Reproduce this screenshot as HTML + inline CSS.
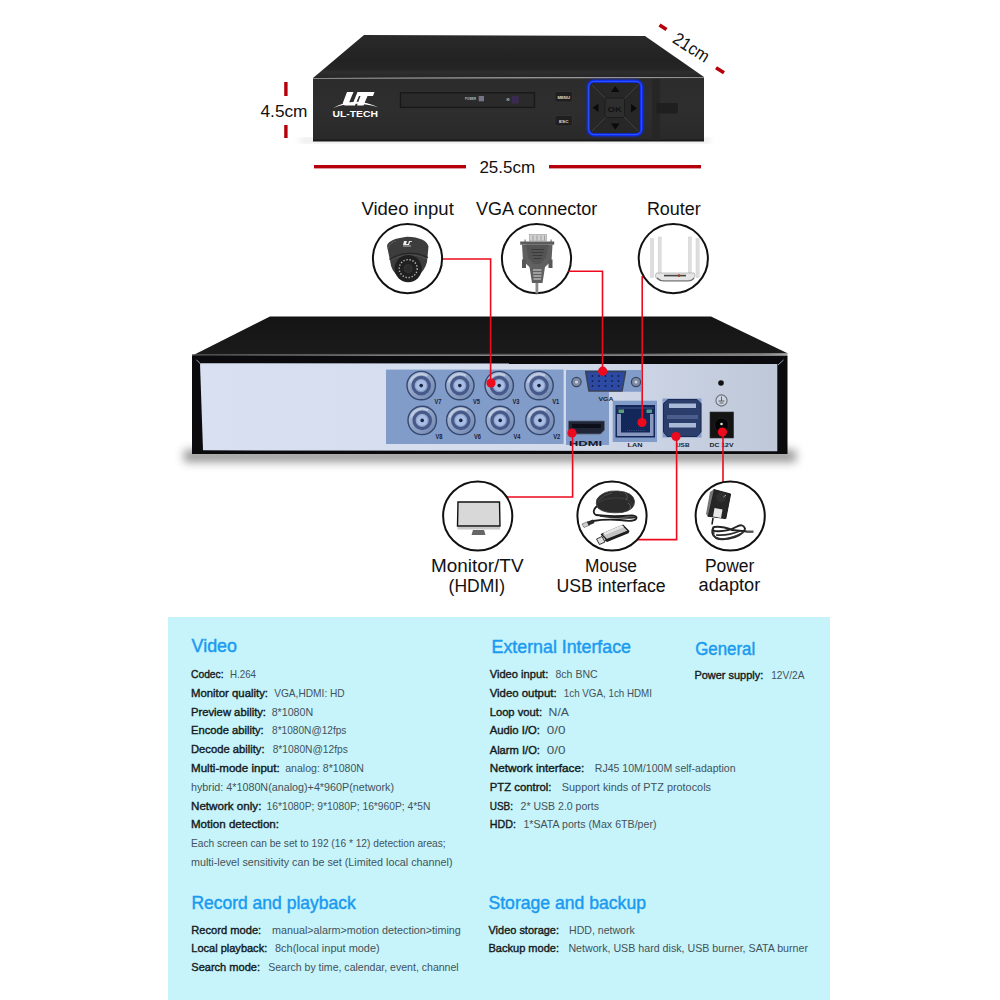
<!DOCTYPE html>
<html><head><meta charset="utf-8"><title>DVR</title>
<style>
html,body{margin:0;padding:0;background:#fff;width:1000px;height:1000px;overflow:hidden}
svg{display:block;font-family:"Liberation Sans",sans-serif}
</style></head><body>
<svg width="1000" height="1000" viewBox="0 0 1000 1000">
<rect x="0" y="0" width="1000" height="1000" fill="#fff"/>
<rect x="168" y="617" width="662" height="383" fill="#c6f4fa"/>
<defs>
<linearGradient id="topg" x1="0" y1="0" x2="0" y2="1">
 <stop offset="0" stop-color="#2a2a2a"/><stop offset="0.6" stop-color="#222"/><stop offset="0.8" stop-color="#262626"/><stop offset="0.86" stop-color="#2e2e2e"/><stop offset="1" stop-color="#252525"/></linearGradient>
<linearGradient id="frontg" x1="0" y1="0" x2="0" y2="1">
 <stop offset="0" stop-color="#2c2c2c"/><stop offset="0.5" stop-color="#2e2e2e"/><stop offset="1" stop-color="#292929"/></linearGradient>
<linearGradient id="rtop" x1="0" y1="0" x2="0" y2="1">
 <stop offset="0" stop-color="#141414"/><stop offset="1" stop-color="#1b1b1b"/></linearGradient>
<linearGradient id="panelg" x1="0" y1="0" x2="1" y2="0">
 <stop offset="0" stop-color="#d8e0f1"/><stop offset="0.6" stop-color="#d4dcec"/><stop offset="1" stop-color="#bfc8d9"/></linearGradient>
<linearGradient id="shadg" x1="0" y1="0" x2="0" y2="1">
 <stop offset="0" stop-color="#9a9a9a"/><stop offset="1" stop-color="#ffffff" stop-opacity="0"/></linearGradient>
<radialGradient id="bncg" cx="0.5" cy="0.5" r="0.5">
 <stop offset="0" stop-color="#c9d3e4"/><stop offset="0.35" stop-color="#9fb0cc"/><stop offset="0.6" stop-color="#b8c4d8"/><stop offset="0.85" stop-color="#8ea2c2"/><stop offset="1" stop-color="#4f6690"/></radialGradient>
<linearGradient id="bncm" x1="0" y1="0" x2="1" y2="1">
 <stop offset="0" stop-color="#b4c2dc"/><stop offset="0.5" stop-color="#8ea2c6"/><stop offset="1" stop-color="#6e84ac"/></linearGradient>
<filter id="blur1" x="-20%" y="-20%" width="140%" height="140%"><feGaussianBlur stdDeviation="1"/></filter><filter id="blur2"><feGaussianBlur stdDeviation="3"/></filter><filter id="blur5" x="-10%" y="-200%" width="120%" height="500%"><feGaussianBlur stdDeviation="5"/></filter>
</defs>
<rect x="300" y="138" width="410" height="5" fill="#ccc" filter="url(#blur2)" opacity="0.5"/>
<polygon points="364,35 645,36 704,77 313,78" fill="url(#topg)"/>
<rect x="313" y="78" width="391" height="63" fill="url(#frontg)"/>
<line x1="313" y1="78.5" x2="704" y2="77.5" stroke="#8a8a8a" stroke-width="1"/>
<rect x="313" y="139.5" width="391" height="2" fill="#1a1a1a"/>
<rect x="652" y="79" width="8" height="61" fill="#262626"/>
<rect x="656.5" y="103" width="21.5" height="10.5" rx="1.5" fill="#1f1f1f"/>
<rect x="400.5" y="92.8" width="134" height="14.6" fill="#2a2a2a" stroke="#181818" stroke-width="1.3"/>
<rect x="478.7" y="96" width="5.3" height="5.3" fill="#75758a"/>
<rect x="511.7" y="96" width="7" height="7.5" fill="#3a2a52"/>
<text x="465.0" y="99.8" font-size="2.8" font-weight="bold" fill="#bbb" textLength="11.0" lengthAdjust="spacingAndGlyphs" >POWER</text>
<text x="506.5" y="100.5" font-size="2.8" font-weight="bold" fill="#ccc" textLength="3.0" lengthAdjust="spacingAndGlyphs" >HD</text>
<rect x="555" y="91.5" width="17.5" height="10.5" rx="2" fill="#1f1f1f" stroke="#3a3a3a" stroke-width="0.6"/>
<text x="557.5" y="98.8" font-size="3.6" font-weight="bold" fill="#ddd" textLength="12.5" lengthAdjust="spacingAndGlyphs" >MENU</text>
<rect x="555" y="115.5" width="17.5" height="10.5" rx="2" fill="#1f1f1f" stroke="#3a3a3a" stroke-width="0.6"/>
<text x="559.0" y="122.8" font-size="3.6" font-weight="bold" fill="#ddd" textLength="9.5" lengthAdjust="spacingAndGlyphs" >ESC</text>
<rect x="588.6" y="81.4" width="52.8" height="53.2" rx="5.5" fill="none" stroke="#1030ff" stroke-width="3.6" filter="url(#blur1)" opacity="0.8"/>
<rect x="588.6" y="81.4" width="52.8" height="53.2" rx="5.5" fill="#272727" stroke="#0b2cf5" stroke-width="2.8"/>
<rect x="588.6" y="81.4" width="52.8" height="53.2" rx="5.5" fill="none" stroke="#4a6aff" stroke-width="0.8" opacity="0.8"/>
<line x1="592" y1="85" x2="606" y2="99" stroke="#444" stroke-width="0.8"/><line x1="638" y1="85" x2="624" y2="99" stroke="#444" stroke-width="0.8"/><line x1="592" y1="131" x2="606" y2="117" stroke="#444" stroke-width="0.8"/><line x1="638" y1="131" x2="624" y2="117" stroke="#444" stroke-width="0.8"/>
<rect x="605" y="98" width="19.5" height="19.5" rx="2" fill="#2e2e2e" stroke="#1c1c1c" stroke-width="1"/>
<text x="607.5" y="111.8" font-size="8" font-weight="bold" fill="#111" textLength="14.5" lengthAdjust="spacingAndGlyphs" >OK</text>
<polygon points="615.3,86 619.5,92 611,92" fill="#0a0a0a"/>
<polygon points="615.3,129.5 619.5,123.5 611,123.5" fill="#0a0a0a"/>
<polygon points="592.5,107.8 598.5,103.5 598.5,112" fill="#0a0a0a"/>
<polygon points="637,108.3 631,104 631,112.5" fill="#0a0a0a"/>
<path d="M347,92 L353.5,92 L349.5,101.5 Q349,103 350.5,103 L353,103 L357.5,92 L374.5,92 L373,96 L367.5,96 L363.5,105.5 L357,105.5 L360.5,96 L359,96 L355,105.5 L345.5,105.5 Q342,105.5 343,102.5 Z" fill="#fff"/>
<path d="M333,108 Q355,96 378.5,107.5 Q355,100 333,108 Z" fill="#fff"/>
<text x="332.5" y="117.2" font-size="8.4" font-weight="bold" fill="#fff" textLength="45.5" lengthAdjust="spacingAndGlyphs" >UL-TECH</text>
<rect x="284.2" y="82" width="3.4" height="14" fill="#b5000c"/>
<rect x="284.2" y="125" width="3.4" height="13" fill="#b5000c"/>
<text x="260.5" y="116.8" font-size="17" fill="#111" textLength="47.0" lengthAdjust="spacingAndGlyphs" >4.5cm</text>
<rect x="314" y="165" width="152" height="3.4" fill="#b5000c"/>
<rect x="549" y="165" width="152" height="3.4" fill="#b5000c"/>
<text x="479.4" y="172.6" font-size="16.5" fill="#111" textLength="55.8" lengthAdjust="spacingAndGlyphs" >25.5cm</text>
<line x1="659.5" y1="25" x2="666.5" y2="29.6" stroke="#b5000c" stroke-width="3.6"/>
<line x1="716" y1="67.8" x2="724" y2="72.8" stroke="#b5000c" stroke-width="3.6"/>
<g transform="translate(671.5,41.8) rotate(32.5)">
<text x="0.0" y="0.0" font-size="17.5" fill="#111" textLength="39.5" lengthAdjust="spacingAndGlyphs" >21cm</text>
</g>
<text x="361.4" y="214.6" font-size="18" fill="#111" textLength="92.4" lengthAdjust="spacingAndGlyphs" >Video input</text>
<text x="476.0" y="214.8" font-size="18" fill="#111" textLength="121.3" lengthAdjust="spacingAndGlyphs" >VGA connector</text>
<text x="646.9" y="214.8" font-size="18" fill="#111" textLength="53.9" lengthAdjust="spacingAndGlyphs" >Router</text>
<circle cx="407.5" cy="258.6" r="34.6" fill="#fff" stroke="#111" stroke-width="2"/>
<circle cx="536.5" cy="258.6" r="34.6" fill="#fff" stroke="#111" stroke-width="2"/>
<circle cx="673.3" cy="258.6" r="34.6" fill="#fff" stroke="#111" stroke-width="2"/>
<g>
<path d="M387,246 Q388,239 407,236.8 Q426,237.5 428.5,246.5 L427,262 Q425,270 418,276 L398,276 Q391,270 390.5,263 Z" fill="#3d3d3d"/>
<path d="M388,249 Q390,242 396,241" fill="none" stroke="#5a5a5a" stroke-width="1"/>
<path d="M389.5,259.5 Q408,248 428,257.5" fill="none" stroke="#262626" stroke-width="1.2"/>
<path d="M390,260.5 Q408,250 427,259" fill="none" stroke="#5c5c5c" stroke-width="0.6"/>
<circle cx="408.2" cy="268.6" r="13.6" fill="#202020"/>
<circle cx="408.2" cy="268.6" r="9" fill="none" stroke="#bdbdbd" stroke-width="1.4" stroke-dasharray="1.3 1.8"/>
<circle cx="408.2" cy="268.6" r="4" fill="#2c2c2c" stroke="#3a3a3a" stroke-width="0.8"/>
<path d="M404,241 l3,0 l-1,3 l2,0 l1,-3 l3,0 l-0.5,1 l-1.5,0 l-1,3 l-6,0 z" fill="#eee"/>
<rect x="403" y="245.5" width="8" height="1" fill="#bbb"/>
</g>
<g>
<rect x="529.5" y="234.5" width="17" height="6.5" fill="#d0d0d0" stroke="#9a9a9a" stroke-width="0.6"/>
<path d="M533,235.5 v5 M537,235.5 v5 M541,235.5 v5 M544.5,235.5 v5" stroke="#8a8a8a" stroke-width="0.7"/>
<rect x="524.5" y="239.5" width="1.2" height="3" fill="#777"/><rect x="550.5" y="239.5" width="1.2" height="3" fill="#777"/>
<rect x="520.2" y="241.5" width="34" height="3.2" fill="#5c5c5c"/>
<path d="M522,244.7 L552.5,244.7 L551.5,261 L545,267 L542.5,283 L532,283 L529.5,267 L523,261 Z" fill="#606060"/>
<path d="M526,244.7 L548.5,244.7 L546,258 L540,264 L534,264 L528,258 Z" fill="#545454"/>
<rect x="522" y="259.5" width="4" height="8.5" fill="#575757"/><rect x="548.5" y="259.5" width="4" height="8.5" fill="#575757"/>
<path d="M531,249.5 h13 M531.5,252.5 h12 M532.5,255.5 h10 M533.5,258.5 h8" stroke="#3a3a3a" stroke-width="1.1"/>
<path d="M533,270 h8.5 M533,273 h8.5 M533.3,276 h8 M533.5,279 h7.5" stroke="#dcdcdc" stroke-width="1.2"/>
<rect x="535.5" y="283" width="2.8" height="10.5" fill="#8a8a8a"/>
</g>
<g>
<rect x="650.5" y="238.7" width="3.2" height="39" fill="#dedede" stroke="#cfcfcf" stroke-width="0.5"/>
<rect x="658.2" y="237" width="3" height="37" fill="#dedede" stroke="#cfcfcf" stroke-width="0.5"/>
<rect x="688.3" y="237" width="3" height="37" fill="#dedede" stroke="#cfcfcf" stroke-width="0.5"/>
<rect x="696" y="238.7" width="3.2" height="39" fill="#dedede" stroke="#cfcfcf" stroke-width="0.5"/>
<path d="M656.5,273 L694,273 Q696,275 694,278 Q692,280.5 688,280.5 L662,280.5 Q658,280.5 656,278 Q654.5,275 656.5,273 Z" fill="#e6e6e6" stroke="#9a9a9a" stroke-width="0.6"/>
<path d="M657,278 Q660,281 664,281 L688,281 Q692,281 694,278" fill="none" stroke="#6a6a6a" stroke-width="1.2"/>
<rect x="664" y="274.8" width="22" height="1.6" fill="#444"/>
<circle cx="679" cy="275.6" r="1.3" fill="#a04010"/>
</g>
<rect x="184" y="450" width="612" height="12" fill="#8a8a8a" filter="url(#blur5)" opacity="0.9"/>
<polygon points="270,316.4 711,316.4 787.5,353.3 192,355.7" fill="url(#rtop)"/>
<line x1="192" y1="354.8" x2="787.5" y2="354" stroke="#5a5a5a" stroke-width="1.2"/>
<rect x="192" y="355.5" width="595.5" height="98.5" fill="#0b0b0e"/>
<polygon points="200,363.3 777.3,363.5 777.3,451.3 203,450.3" fill="url(#panelg)"/>
<line x1="196.5" y1="359.8" x2="201" y2="364.5" stroke="#9aa0aa" stroke-width="1"/>
<line x1="783.5" y1="360" x2="778" y2="365" stroke="#9aa6c0" stroke-width="1"/>
<rect x="386" y="369.6" width="177.6" height="74.4" fill="#819cc9"/>
<circle cx="421.2" cy="385.6" r="14.2" fill="url(#bncm)" stroke="#34476f" stroke-width="1.4"/>
<path d="M410.2,382.6 A11.5,11.5 0 0 1 427.2,375.6" fill="none" stroke="#c0cce2" stroke-width="2"/>
<circle cx="421.2" cy="385.6" r="8.2" fill="none" stroke="#46598a" stroke-width="3.2"/>
<circle cx="421.2" cy="385.6" r="5.3" fill="#a7bde6"/>
<circle cx="421.2" cy="385.6" r="1.8" fill="#18223e"/>
<text x="434.4" y="403.8" font-size="6.5" font-weight="bold" fill="#1a2038" textLength="7.0" lengthAdjust="spacingAndGlyphs" >V7</text>
<circle cx="459.8" cy="385.6" r="14.2" fill="url(#bncm)" stroke="#34476f" stroke-width="1.4"/>
<path d="M448.8,382.6 A11.5,11.5 0 0 1 465.8,375.6" fill="none" stroke="#c0cce2" stroke-width="2"/>
<circle cx="459.8" cy="385.6" r="8.2" fill="none" stroke="#46598a" stroke-width="3.2"/>
<circle cx="459.8" cy="385.6" r="5.3" fill="#a7bde6"/>
<circle cx="459.8" cy="385.6" r="1.8" fill="#18223e"/>
<text x="473.0" y="403.8" font-size="6.5" font-weight="bold" fill="#1a2038" textLength="7.0" lengthAdjust="spacingAndGlyphs" >V5</text>
<circle cx="499.2" cy="385.6" r="14.2" fill="url(#bncm)" stroke="#34476f" stroke-width="1.4"/>
<path d="M488.2,382.6 A11.5,11.5 0 0 1 505.2,375.6" fill="none" stroke="#c0cce2" stroke-width="2"/>
<circle cx="499.2" cy="385.6" r="8.2" fill="none" stroke="#46598a" stroke-width="3.2"/>
<circle cx="499.2" cy="385.6" r="5.3" fill="#a7bde6"/>
<circle cx="499.2" cy="385.6" r="1.8" fill="#18223e"/>
<text x="512.4" y="403.8" font-size="6.5" font-weight="bold" fill="#1a2038" textLength="7.0" lengthAdjust="spacingAndGlyphs" >V3</text>
<circle cx="539.0" cy="385.6" r="14.2" fill="url(#bncm)" stroke="#34476f" stroke-width="1.4"/>
<path d="M528.0,382.6 A11.5,11.5 0 0 1 545.0,375.6" fill="none" stroke="#c0cce2" stroke-width="2"/>
<circle cx="539.0" cy="385.6" r="8.2" fill="none" stroke="#46598a" stroke-width="3.2"/>
<circle cx="539.0" cy="385.6" r="5.3" fill="#a7bde6"/>
<circle cx="539.0" cy="385.6" r="1.8" fill="#18223e"/>
<text x="552.2" y="403.8" font-size="6.5" font-weight="bold" fill="#1a2038" textLength="7.0" lengthAdjust="spacingAndGlyphs" >V1</text>
<circle cx="422.2" cy="420.4" r="14.2" fill="url(#bncm)" stroke="#34476f" stroke-width="1.4"/>
<path d="M411.2,417.4 A11.5,11.5 0 0 1 428.2,410.4" fill="none" stroke="#c0cce2" stroke-width="2"/>
<circle cx="422.2" cy="420.4" r="8.2" fill="none" stroke="#46598a" stroke-width="3.2"/>
<circle cx="422.2" cy="420.4" r="5.3" fill="#a7bde6"/>
<circle cx="422.2" cy="420.4" r="1.8" fill="#18223e"/>
<text x="435.4" y="438.6" font-size="6.5" font-weight="bold" fill="#1a2038" textLength="7.0" lengthAdjust="spacingAndGlyphs" >V8</text>
<circle cx="460.8" cy="420.4" r="14.2" fill="url(#bncm)" stroke="#34476f" stroke-width="1.4"/>
<path d="M449.8,417.4 A11.5,11.5 0 0 1 466.8,410.4" fill="none" stroke="#c0cce2" stroke-width="2"/>
<circle cx="460.8" cy="420.4" r="8.2" fill="none" stroke="#46598a" stroke-width="3.2"/>
<circle cx="460.8" cy="420.4" r="5.3" fill="#a7bde6"/>
<circle cx="460.8" cy="420.4" r="1.8" fill="#18223e"/>
<text x="474.0" y="438.6" font-size="6.5" font-weight="bold" fill="#1a2038" textLength="7.0" lengthAdjust="spacingAndGlyphs" >V6</text>
<circle cx="500.2" cy="420.4" r="14.2" fill="url(#bncm)" stroke="#34476f" stroke-width="1.4"/>
<path d="M489.2,417.4 A11.5,11.5 0 0 1 506.2,410.4" fill="none" stroke="#c0cce2" stroke-width="2"/>
<circle cx="500.2" cy="420.4" r="8.2" fill="none" stroke="#46598a" stroke-width="3.2"/>
<circle cx="500.2" cy="420.4" r="5.3" fill="#a7bde6"/>
<circle cx="500.2" cy="420.4" r="1.8" fill="#18223e"/>
<text x="513.4" y="438.6" font-size="6.5" font-weight="bold" fill="#1a2038" textLength="7.0" lengthAdjust="spacingAndGlyphs" >V4</text>
<circle cx="540.0" cy="420.4" r="14.2" fill="url(#bncm)" stroke="#34476f" stroke-width="1.4"/>
<path d="M529.0,417.4 A11.5,11.5 0 0 1 546.0,410.4" fill="none" stroke="#c0cce2" stroke-width="2"/>
<circle cx="540.0" cy="420.4" r="8.2" fill="none" stroke="#46598a" stroke-width="3.2"/>
<circle cx="540.0" cy="420.4" r="5.3" fill="#a7bde6"/>
<circle cx="540.0" cy="420.4" r="1.8" fill="#18223e"/>
<text x="553.2" y="438.6" font-size="6.5" font-weight="bold" fill="#1a2038" textLength="7.0" lengthAdjust="spacingAndGlyphs" >V2</text>
<path d="M566,370 L641,370 L641,391.7 L609,391.7 L609,445 L566,445 Z" fill="#819cc9"/>
<circle cx="576.5" cy="382" r="4.6" fill="#7d8aa4" stroke="#3a4660" stroke-width="1.2"/><circle cx="576.5" cy="382" r="1.6" fill="#c8d0e0"/>
<circle cx="636" cy="382" r="4.6" fill="#7d8aa4" stroke="#3a4660" stroke-width="1.2"/><circle cx="636" cy="382" r="1.6" fill="#c8d0e0"/>
<path d="M585.7,371.5 L625.5,371.5 L622,391 L589,391 Z" fill="#2c4aa4" stroke="#3a4258" stroke-width="1.6" stroke-linejoin="round"/>
<circle cx="592.5" cy="376" r="0.9" fill="#13204a"/>
<circle cx="599.0" cy="376" r="0.9" fill="#13204a"/>
<circle cx="605.5" cy="376" r="0.9" fill="#13204a"/>
<circle cx="612.0" cy="376" r="0.9" fill="#13204a"/>
<circle cx="618.5" cy="376" r="0.9" fill="#13204a"/>
<circle cx="592.5" cy="381" r="0.9" fill="#13204a"/>
<circle cx="599.0" cy="381" r="0.9" fill="#13204a"/>
<circle cx="605.5" cy="381" r="0.9" fill="#13204a"/>
<circle cx="612.0" cy="381" r="0.9" fill="#13204a"/>
<circle cx="618.5" cy="381" r="0.9" fill="#13204a"/>
<circle cx="592.5" cy="386" r="0.9" fill="#13204a"/>
<circle cx="599.0" cy="386" r="0.9" fill="#13204a"/>
<circle cx="605.5" cy="386" r="0.9" fill="#13204a"/>
<circle cx="612.0" cy="386" r="0.9" fill="#13204a"/>
<circle cx="618.5" cy="386" r="0.9" fill="#13204a"/>
<text x="598.5" y="401.0" font-size="5.5" font-weight="bold" fill="#202228" textLength="15.0" lengthAdjust="spacingAndGlyphs" >VGA</text>
<path d="M568.5,421 L604.5,421 L604.5,430 L600.5,434 L572.5,434 L568.5,430 Z" fill="#1f2436" stroke="#5a6478" stroke-width="0.8"/>
<rect x="572" y="424" width="29" height="4" fill="#0c0f1a"/>
<text x="569.0" y="445.5" font-size="6.6" font-weight="bold" fill="#161a2a" textLength="33.0" lengthAdjust="spacingAndGlyphs" >HDMI</text>
<rect x="612.7" y="400.7" width="44.3" height="41.3" fill="#819cc9"/>
<rect x="615.5" y="405" width="39.5" height="32.5" fill="#13275a"/>
<path d="M617,414 L621,414 L621,432.5 L650,432.5 L650,414 L653.5,414 L653.5,436 L617,436 Z" fill="#8797bd"/>
<rect x="617" y="407" width="36.5" height="2" fill="#2a4070"/>
<rect x="618.5" y="409.5" width="5.5" height="3.5" fill="#5e9c78"/><rect x="646.5" y="409.5" width="5.5" height="3.5" fill="#4f9a8a"/>
<path d="M627,430.5 h18" stroke="#4a6090" stroke-width="0.8" stroke-dasharray="1 1.2"/>
<text x="627.5" y="446.5" font-size="5.6" font-weight="bold" fill="#202228" textLength="15.0" lengthAdjust="spacingAndGlyphs" >LAN</text>
<rect x="662.5" y="398.5" width="39" height="39" fill="#819cc9"/>
<path d="M668,399.5 L697,399.5 L701,403.5 L701,432 L697,436.5 L667,436.5 L663.5,432 L663.5,403.5 Z" fill="#2b3d6a" stroke="#1b2a52" stroke-width="1"/>
<rect x="669" y="403.5" width="27" height="4.5" fill="#a9b9d8"/>
<rect x="667" y="415" width="31" height="4" fill="#4a5d8c"/>
<rect x="669" y="423" width="27" height="4.5" fill="#a9b9d8"/>
<text x="676.0" y="447.0" font-size="5.6" font-weight="bold" fill="#202228" textLength="13.5" lengthAdjust="spacingAndGlyphs" >USB</text>
<circle cx="721" cy="383" r="2.8" fill="#111"/>
<circle cx="721.5" cy="400.5" r="5.6" fill="#cdd5e2" stroke="#6a6e78" stroke-width="1.1"/>
<path d="M721.5,396.5 v4.5 M718.5,401 h6 M719.5,403 h4" stroke="#444" stroke-width="0.8"/>
<rect x="710" y="412" width="23.6" height="26" fill="#141414" stroke="#333" stroke-width="0.6"/>
<circle cx="721.5" cy="425" r="7" fill="#050505" stroke="#2a2a2a" stroke-width="0.6"/>
<circle cx="721.5" cy="424" r="1.3" fill="#ddd"/>
<text x="709.5" y="447.0" font-size="5.6" font-weight="bold" fill="#202228" textLength="24.0" lengthAdjust="spacingAndGlyphs" >DC 12V</text>
<polyline points="443,259 490.6,259 490.6,383" fill="none" stroke="#ee0a1e" stroke-width="1.6"/>
<polyline points="568.5,271.3 602.5,271.3 602.5,371" fill="none" stroke="#ee0a1e" stroke-width="1.6"/>
<polyline points="642.2,276 642.2,422.5" fill="none" stroke="#ee0a1e" stroke-width="1.6"/>
<circle cx="491" cy="383" r="4.6" fill="#ee0a1e"/>
<circle cx="602.7" cy="371.2" r="4.6" fill="#ee0a1e"/>
<circle cx="642" cy="422.5" r="4.6" fill="#ee0a1e"/>
<circle cx="572" cy="433" r="4.6" fill="#ee0a1e"/>
<circle cx="676" cy="436.5" r="4.6" fill="#ee0a1e"/>
<circle cx="722.4" cy="432" r="4.6" fill="#ee0a1e"/>
<polyline points="572.6,433 572.6,497 507,497" fill="none" stroke="#ee0a1e" stroke-width="1.6"/>
<polyline points="676.6,436 676.6,539.6 637.5,539.6" fill="none" stroke="#ee0a1e" stroke-width="1.6"/>
<polyline points="723,432 723,482" fill="none" stroke="#ee0a1e" stroke-width="1.6"/>
<circle cx="477.7" cy="516" r="34.6" fill="#fff" stroke="#111" stroke-width="2"/>
<circle cx="612" cy="516" r="34.6" fill="#fff" stroke="#111" stroke-width="2"/>
<circle cx="730.2" cy="516" r="34.6" fill="#fff" stroke="#111" stroke-width="2"/>
<path d="M458,502 L499.5,502 L500,526 L457.5,526 Z" fill="#d8d8d8" stroke="#111" stroke-width="1.4"/>
<rect x="457.5" y="527" width="42.5" height="2.5" fill="#c8c8c8"/>
<path d="M473,530 L484,530 L485.5,535 L471.5,535 Z" fill="#666"/>
<path d="M597,499 Q603,490 618,491 Q633,492 634.5,501 Q635,510 622,512.5 Q604,514 598,508 Q595,504 597,499 Z" fill="#2b2b2b" stroke="#3c3c3c" stroke-width="0.8"/>
<path d="M598,503 Q606,497 620,498 Q630,499 633,505" fill="none" stroke="#3e3e3e" stroke-width="1"/>
<path d="M598,501 Q604,494 612,493" fill="none" stroke="#555" stroke-width="0.8"/>
<path d="M625,493 Q629,496 626,500" fill="none" stroke="#666" stroke-width="0.7"/>
<path d="M628,503 Q632,505 630,509" fill="none" stroke="#777" stroke-width="0.7"/>
<path d="M597,506 Q591,512 596,515 Q610,517 632,515.5 Q638,516 636,519 Q633,522 620,520 Q605,519 593,521 L587,523" fill="none" stroke="#1e1e1e" stroke-width="1.8"/>
<path d="M600,516 Q618,519 636,517.5" fill="none" stroke="#2a2a2a" stroke-width="1.4"/>
<path d="M582,524 L588,521.5 L590,525 L584,527.5 Z" fill="#cfcfcf" stroke="#555" stroke-width="0.6"/>
<path d="M587,522 L593,519.5 L594.5,523 L588.5,525.5 Z" fill="#2a2a2a"/>
<path d="M601.5,534.4 L622.9,525.3 L628.8,531.2 L607.3,540.3 Z" fill="#c4c4c4" stroke="#1c1c1c" stroke-width="1.4" stroke-linejoin="round"/>
<path d="M603,533 L622,525 L624,527 L605,535 Z" fill="#e8e8e8"/>
<path d="M604,540 L628,530.5 L629,533 L607,542 Z" fill="#1c1c1c"/>
<path d="M596.5,539 L602,536.5 L605,542 L599.5,544.5 Z" fill="#e0e0e0" stroke="#222" stroke-width="0.9"/>
<path d="M713.8,489.5 L730.6,494 L725.8,518.6 L707.8,516.2 Z" fill="#262626" stroke="#1a1a1a" stroke-width="1" stroke-linejoin="round"/>
<path d="M713.8,489.5 L710,492 L706,514 L707.8,516.2 Z" fill="#777"/>
<circle cx="721" cy="497.5" r="5" fill="#303030"/>
<path d="M723.5,497 L726,495" stroke="#aaa" stroke-width="1"/>
<path d="M714.5,508 L722.5,509.5 L721,518 L713,516.6 Z" fill="#e6e6e6"/>
<path d="M713,518 L712,524.5" stroke="#1c1c1c" stroke-width="1.6"/>
<path d="M713.5,527 Q710,534 716,538 Q722,541 735,537 Q745,533 745,528.5 Q743,523 736,527 Q727,532 715,531 Q711,530 714,527 Q722,526 732,530 L747,531.5" fill="none" stroke="#232323" stroke-width="2"/>
<path d="M716,535 Q728,536 740,531" fill="none" stroke="#2a2a2a" stroke-width="1.6"/>
<path d="M714,532 Q712,538 722,539 Q732,538 742,533" fill="none" stroke="#333" stroke-width="1.3"/>
<rect x="746.5" y="530.5" width="7" height="2.4" fill="#555"/>
<text x="431.0" y="572.0" font-size="18" fill="#111" textLength="92.5" lengthAdjust="spacingAndGlyphs" >Monitor/TV</text>
<text x="448.6" y="591.5" font-size="18" fill="#111" textLength="56.4" lengthAdjust="spacingAndGlyphs" >(HDMI)</text>
<text x="585.0" y="572.0" font-size="18" fill="#111" textLength="52.0" lengthAdjust="spacingAndGlyphs" >Mouse</text>
<text x="556.5" y="591.5" font-size="18" fill="#111" textLength="109.2" lengthAdjust="spacingAndGlyphs" >USB interface</text>
<text x="704.9" y="571.6" font-size="18" fill="#111" textLength="49.5" lengthAdjust="spacingAndGlyphs" >Power</text>
<text x="698.6" y="591.4" font-size="18" fill="#111" textLength="61.7" lengthAdjust="spacingAndGlyphs" >adaptor</text>
<text x="191.6" y="652.2" font-size="18.5" fill="#1a9af0" textLength="45.4" lengthAdjust="spacingAndGlyphs" stroke="#1a9af0" stroke-width="0.45">Video</text>
<text x="491.6" y="652.8" font-size="18.5" fill="#1a9af0" textLength="139.4" lengthAdjust="spacingAndGlyphs" stroke="#1a9af0" stroke-width="0.45">External Interface</text>
<text x="695.2" y="654.6" font-size="18.5" fill="#1a9af0" textLength="60.0" lengthAdjust="spacingAndGlyphs" stroke="#1a9af0" stroke-width="0.45">General</text>
<text x="191.4" y="909.3" font-size="18.5" fill="#1a9af0" textLength="164.3" lengthAdjust="spacingAndGlyphs" stroke="#1a9af0" stroke-width="0.45">Record and playback</text>
<text x="488.5" y="908.8" font-size="18.5" fill="#1a9af0" textLength="157.5" lengthAdjust="spacingAndGlyphs" stroke="#1a9af0" stroke-width="0.45">Storage and backup</text>
<text x="191.0" y="678.2" font-size="11" fill="#141a1c" textLength="32.6" lengthAdjust="spacingAndGlyphs" stroke="#141a1c" stroke-width="0.38">Codec:</text>
<text x="230.0" y="678.2" font-size="11" fill="#44525a" textLength="26.0" lengthAdjust="spacingAndGlyphs" >H.264</text>
<text x="191.0" y="696.8" font-size="11" fill="#141a1c" textLength="77.0" lengthAdjust="spacingAndGlyphs" stroke="#141a1c" stroke-width="0.38">Monitor quality:</text>
<text x="274.2" y="696.8" font-size="11" fill="#44525a" textLength="70.5" lengthAdjust="spacingAndGlyphs" >VGA,HDMI: HD</text>
<text x="191.0" y="715.8" font-size="11" fill="#141a1c" textLength="75.0" lengthAdjust="spacingAndGlyphs" stroke="#141a1c" stroke-width="0.38">Preview ability:</text>
<text x="271.7" y="715.8" font-size="11" fill="#44525a" textLength="41.5" lengthAdjust="spacingAndGlyphs" >8*1080N</text>
<text x="191.0" y="734.4" font-size="11" fill="#141a1c" textLength="72.7" lengthAdjust="spacingAndGlyphs" stroke="#141a1c" stroke-width="0.38">Encode ability:</text>
<text x="272.0" y="734.4" font-size="11" fill="#44525a" textLength="74.4" lengthAdjust="spacingAndGlyphs" >8*1080N@12fps</text>
<text x="191.0" y="753.3" font-size="11" fill="#141a1c" textLength="73.5" lengthAdjust="spacingAndGlyphs" stroke="#141a1c" stroke-width="0.38">Decode ability:</text>
<text x="272.7" y="753.3" font-size="11" fill="#44525a" textLength="75.1" lengthAdjust="spacingAndGlyphs" >8*1080N@12fps</text>
<text x="191.0" y="771.8" font-size="11" fill="#141a1c" textLength="88.7" lengthAdjust="spacingAndGlyphs" stroke="#141a1c" stroke-width="0.38">Multi-mode input:</text>
<text x="285.2" y="771.8" font-size="11" fill="#44525a" textLength="78.8" lengthAdjust="spacingAndGlyphs" >analog: 8*1080N</text>
<text x="191.0" y="790.8" font-size="11" fill="#44525a" textLength="203.0" lengthAdjust="spacingAndGlyphs" >hybrid: 4*1080N(analog)+4*960P(network)</text>
<text x="191.0" y="809.5" font-size="11" fill="#141a1c" textLength="70.4" lengthAdjust="spacingAndGlyphs" stroke="#141a1c" stroke-width="0.38">Network only:</text>
<text x="266.5" y="809.5" font-size="11" fill="#44525a" textLength="163.9" lengthAdjust="spacingAndGlyphs" >16*1080P; 9*1080P;  16*960P;  4*5N</text>
<text x="191.0" y="828.4" font-size="11" fill="#141a1c" textLength="88.0" lengthAdjust="spacingAndGlyphs" stroke="#141a1c" stroke-width="0.38">Motion detection:</text>
<text x="191.0" y="847.3" font-size="11" fill="#44525a" textLength="254.7" lengthAdjust="spacingAndGlyphs" >Each screen can be set to 192 (16 * 12) detection areas;</text>
<text x="191.0" y="865.8" font-size="11" fill="#44525a" textLength="261.5" lengthAdjust="spacingAndGlyphs" >multi-level sensitivity can be set (Limited local channel)</text>
<text x="489.7" y="678.2" font-size="11" fill="#141a1c" textLength="58.6" lengthAdjust="spacingAndGlyphs" stroke="#141a1c" stroke-width="0.38">Video input:</text>
<text x="555.5" y="678.2" font-size="11" fill="#44525a" textLength="42.1" lengthAdjust="spacingAndGlyphs" >8ch BNC</text>
<text x="489.7" y="696.8" font-size="11" fill="#141a1c" textLength="66.9" lengthAdjust="spacingAndGlyphs" stroke="#141a1c" stroke-width="0.38">Video output:</text>
<text x="563.8" y="696.8" font-size="11" fill="#44525a" textLength="88.2" lengthAdjust="spacingAndGlyphs" >1ch VGA, 1ch HDMI</text>
<text x="489.7" y="716.2" font-size="11" fill="#141a1c" textLength="52.3" lengthAdjust="spacingAndGlyphs" stroke="#141a1c" stroke-width="0.38">Loop vout:</text>
<text x="548.6" y="716.2" font-size="11" fill="#44525a" textLength="20.4" lengthAdjust="spacingAndGlyphs" >N/A</text>
<text x="489.7" y="734.4" font-size="11" fill="#141a1c" textLength="50.3" lengthAdjust="spacingAndGlyphs" stroke="#141a1c" stroke-width="0.38">Audio I/O:</text>
<text x="546.7" y="734.4" font-size="11" fill="#44525a" textLength="18.7" lengthAdjust="spacingAndGlyphs" >0/0</text>
<text x="489.7" y="753.5" font-size="11" fill="#141a1c" textLength="50.3" lengthAdjust="spacingAndGlyphs" stroke="#141a1c" stroke-width="0.38">Alarm I/O:</text>
<text x="546.7" y="753.5" font-size="11" fill="#44525a" textLength="18.7" lengthAdjust="spacingAndGlyphs" >0/0</text>
<text x="489.7" y="772.2" font-size="11" fill="#141a1c" textLength="94.5" lengthAdjust="spacingAndGlyphs" stroke="#141a1c" stroke-width="0.38">Network interface:</text>
<text x="594.8" y="772.2" font-size="11" fill="#44525a" textLength="140.7" lengthAdjust="spacingAndGlyphs" >RJ45 10M/100M self-adaption</text>
<text x="489.7" y="791.0" font-size="11" fill="#141a1c" textLength="61.7" lengthAdjust="spacingAndGlyphs" stroke="#141a1c" stroke-width="0.38">PTZ control:</text>
<text x="561.8" y="791.0" font-size="11" fill="#44525a" textLength="149.2" lengthAdjust="spacingAndGlyphs" >Support kinds of PTZ protocols</text>
<text x="489.7" y="809.5" font-size="11" fill="#141a1c" textLength="23.3" lengthAdjust="spacingAndGlyphs" stroke="#141a1c" stroke-width="0.38">USB:</text>
<text x="520.6" y="809.5" font-size="11" fill="#44525a" textLength="78.4" lengthAdjust="spacingAndGlyphs" >2* USB 2.0 ports</text>
<text x="489.7" y="828.3" font-size="11" fill="#141a1c" textLength="26.2" lengthAdjust="spacingAndGlyphs" stroke="#141a1c" stroke-width="0.38">HDD:</text>
<text x="523.4" y="828.3" font-size="11" fill="#44525a" textLength="133.1" lengthAdjust="spacingAndGlyphs" >1*SATA ports (Max 6TB/per)</text>
<text x="694.4" y="679.4" font-size="11" fill="#141a1c" textLength="68.8" lengthAdjust="spacingAndGlyphs" stroke="#141a1c" stroke-width="0.38">Power supply:</text>
<text x="771.2" y="679.4" font-size="11" fill="#44525a" textLength="33.3" lengthAdjust="spacingAndGlyphs" >12V/2A</text>
<text x="191.3" y="933.8" font-size="11" fill="#141a1c" textLength="69.9" lengthAdjust="spacingAndGlyphs" stroke="#141a1c" stroke-width="0.38">Record mode:</text>
<text x="272.0" y="933.8" font-size="11" fill="#44525a" textLength="188.8" lengthAdjust="spacingAndGlyphs" >manual&gt;alarm&gt;motion detection&gt;timing</text>
<text x="191.3" y="952.2" font-size="11" fill="#141a1c" textLength="75.9" lengthAdjust="spacingAndGlyphs" stroke="#141a1c" stroke-width="0.38">Local playback:</text>
<text x="275.0" y="952.2" font-size="11" fill="#44525a" textLength="104.7" lengthAdjust="spacingAndGlyphs" >8ch(local input mode)</text>
<text x="191.3" y="970.5" font-size="11" fill="#141a1c" textLength="68.7" lengthAdjust="spacingAndGlyphs" stroke="#141a1c" stroke-width="0.38">Search mode:</text>
<text x="268.2" y="970.5" font-size="11" fill="#44525a" textLength="190.5" lengthAdjust="spacingAndGlyphs" >Search by time, calendar, event, channel</text>
<text x="488.5" y="933.5" font-size="11" fill="#141a1c" textLength="70.5" lengthAdjust="spacingAndGlyphs" stroke="#141a1c" stroke-width="0.38">Video storage:</text>
<text x="569.0" y="933.5" font-size="11" fill="#44525a" textLength="65.8" lengthAdjust="spacingAndGlyphs" >HDD, network</text>
<text x="488.5" y="952.2" font-size="11" fill="#141a1c" textLength="70.5" lengthAdjust="spacingAndGlyphs" stroke="#141a1c" stroke-width="0.38">Backup mode:</text>
<text x="568.4" y="952.2" font-size="11" fill="#44525a" textLength="239.6" lengthAdjust="spacingAndGlyphs" >Network, USB hard disk, USB burner, SATA burner</text>
</svg>
</body></html>
